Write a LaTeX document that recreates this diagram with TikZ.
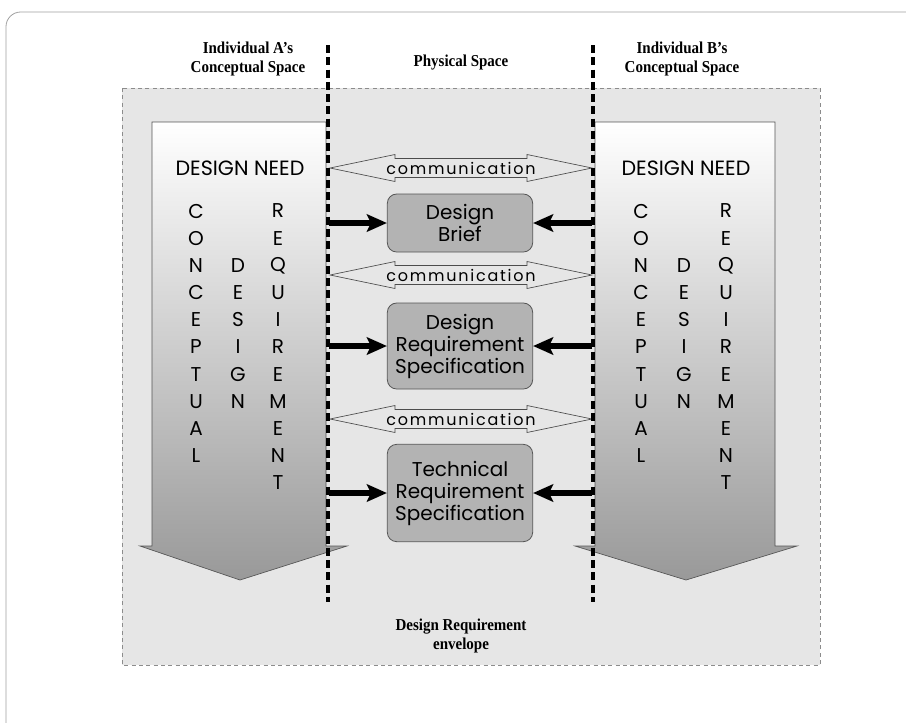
\documentclass[tikz,border=0pt]{standalone}
\usepackage{fontspec}
\setmainfont{Liberation Serif}
\newfontfamily\condserif[FakeStretch=0.9]{Liberation Serif}
\newfontfamily\gothic{Poppins}
\newfontfamily\gothicwide[LetterSpace=11]{Poppins}
\usetikzlibrary{arrows.meta}
\definecolor{envfill}{HTML}{E6E6E6}
\definecolor{boxfill}{HTML}{B3B3B3}
\definecolor{edgegray}{HTML}{555555}
\definecolor{framegray}{HTML}{A0A0A0}
\tikzset{
  headtext/.style={font=\condserif\bfseries\fontsize{12.5}{14}\selectfont, align=center, inner sep=0pt},
  letter/.style={font=\gothic\fontsize{15}{15}\selectfont, inner sep=0pt, anchor=center},
  needtext/.style={font=\gothic\fontsize{15.5}{15.5}\selectfont, inner sep=0pt},
  commtext/.style={font=\gothicwide\fontsize{12}{12}\selectfont, inner sep=0pt},
  specbox/.style={draw=edgegray, fill=boxfill, rounded corners=7pt, line width=0.6pt,
    minimum width=109pt, align=center, font=\gothic\fontsize{15}{16.5}\selectfont, inner sep=1pt},
  bigarrow/.style={draw=edgegray, line width=0.5pt, top color=white, bottom color=black!40},
  commarrow/.style={draw=black!70, line width=0.5pt, fill=envfill},
  thickarrow/.style={line width=4.2pt, -{Stealth[length=15pt,width=13pt,inset=3pt]}},
  divider/.style={line width=2.8pt, dash pattern=on 6pt off 3.2pt},
}
\begin{document}
\begin{tikzpicture}[x=0.75pt,y=-0.75pt]
\useasboundingbox (0,0) rectangle (906,722);
\clip (0,0) rectangle (906,722);
% outer frame
\draw[framegray, line width=0.6pt, rounded corners=11pt] (6,12) rectangle (940,760);
% envelope
\draw[black!45, line width=0.6pt, dash pattern=on 3pt off 2.5pt, fill=envfill] (122,88) rectangle (820,665);
% big arrows
\path[bigarrow] (152,122) -- (326,122) -- (326,546) -- (347,546) -- (240,580) -- (140,546) -- (152,546) -- cycle;
\path[bigarrow] (595,122) -- (775,122) -- (775,546) -- (797,546) -- (686,580) -- (575,546) -- (595,546) -- cycle;
% design need
\node[needtext] (dnA) at (240,168) {DESIGN NEED};
\node[needtext] (dnB) at (686,168) {DESIGN NEED};
% letter columns
\foreach \ch [count=\i from 0] in {C,O,N,C,E,P,T,U,A,L} {
  \node[letter] (ac\i) at (196,{211+27.2*\i}) {\ch};
  \node[letter] (bc\i) at (641,{211+27.2*\i}) {\ch};
}
\foreach \ch [count=\i from 2] in {D,E,S,I,G,N} {
  \node[letter] (ad\i) at (238,{211+27.2*\i}) {\ch};
  \node[letter] (bd\i) at (684,{211+27.2*\i}) {\ch};
}
\foreach \ch [count=\i from 0] in {R,E,Q,U,I,R,E,M,E,N,T} {
  \node[letter] (ar\i) at (278,{211+27.2*\i}) {\ch};
  \node[letter] (br\i) at (726,{211+27.2*\i}) {\ch};
}
% communication arrows
\foreach \y/\n in {168/1,275/2,419/3} {
  \path[commarrow] (330,\y) -- (395,\y-13.5) -- (395,\y-9.5) -- (527,\y-9.5) -- (527,\y-13.5) -- (592,\y)
     -- (527,\y+13.5) -- (527,\y+9.5) -- (395,\y+9.5) -- (395,\y+13.5) -- cycle;
  \node[commtext] (comm\n) at (461,\y) {communication};
}
% boxes
\node[specbox, minimum height=43.5pt] (b1) at (460,223) {Design\\Brief};
\node[specbox, minimum height=64.5pt] (b2) at (460,346) {Design\\Requirement\\Specification};
\node[specbox, minimum height=73pt] (b3) at (460,493) {Technical\\Requirement\\Specification};
% dividers
\coordinate (dAt) at (328,45);
\coordinate (dAb) at (328,602);
\coordinate (dBt) at (593,45);
\coordinate (dBb) at (593,602);
\draw[divider] (dAt) -- (dAb);
\draw[divider] (dBt) -- (dBb);
% thick arrows
\foreach \n/\y in {1/223,2/346,3/493} {
  \coordinate (la\n) at (329,\y);
  \coordinate (ra\n) at (592,\y);
  \draw[thickarrow] (la\n) -- (b\n.west);
  \draw[thickarrow] (ra\n) -- (b\n.east);
}
% headers
\node[headtext] (hA) at (248,59) {Individual A’s\\Conceptual Space};
\node[headtext] (hP) at (461,63) {Physical Space};
\node[headtext] (hB) at (682,59) {Individual B’s\\Conceptual Space};
\node[headtext] (env) at (461,636) {Design Requirement\\envelope};
\end{tikzpicture}
\end{document}
